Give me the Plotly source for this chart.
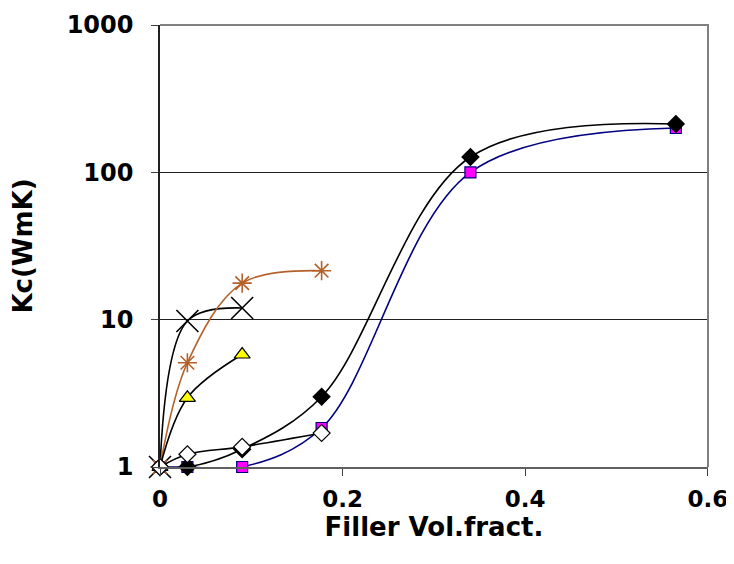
import plotly.graph_objects as go

# Data (filler volume fraction vs composite conductivity Kc)
x_long = [0.0, 0.03, 0.09, 0.177, 0.34, 0.565]
kc_black_diamond = [1.0, 1.0, 1.32, 3.0, 127, 213]
kc_magenta_square = [1.0, 1.0, 1.0, 1.84, 100, 200]

x_mid = [0.0, 0.03, 0.09, 0.177]
kc_white_diamond = [1.0, 1.22, 1.37, 1.7]
kc_asterisk = [1.0, 5.1, 17.7, 21.5]

x_short = [0.0, 0.03, 0.09]
kc_triangle = [1.0, 2.95, 5.8]
kc_cross = [1.0, 9.8, 12.0]

x_ticks = [0, 0.2, 0.4, 0.6]
x_tick_text = ["0", "0.2", "0.4", "0.6"]
y_ticks = [1, 10, 100, 1000]
y_tick_text = ["1", "10", "100", "1000"]

FONT = "DejaVu Sans"

fig = go.Figure()

def add(x, y, line_color, symbol, fill, outline, size, lw=1.6, mlw=1.2):
    fig.add_trace(go.Scatter(
        x=x, y=y, mode="lines+markers",
        line=dict(color=line_color, width=lw, shape="spline", smoothing=1.0),
        marker=dict(symbol=symbol, color=fill, size=size,
                    line=dict(color=outline, width=mlw)),
        cliponaxis=False, showlegend=False,
    ))

add(x_long, kc_magenta_square, "#000080", "square", "#ff00ff", "#000080", 11)
add(x_long, kc_black_diamond, "#000000", "diamond", "#000000", "#000000", 13)
add(x_short, kc_cross, "#000000", "x-thin-open", "#000000", "#000000", 22, mlw=1.6)
add(x_mid, kc_asterisk, "#b5602a", "asterisk-open", "#b5602a", "#b5602a", 16, mlw=1.6)
add(x_short, kc_triangle, "#000000", "triangle-up", "#ffff00", "#000000", 14)
add(x_mid, kc_white_diamond, "#000000", "diamond", "#ffffff", "#000000", 13)

fig.update_layout(
    width=726, height=540,
    margin=dict(l=152, r=26, t=17, b=81),
    paper_bgcolor="white", plot_bgcolor="white",
    font=dict(family=FONT, color="black"),
    xaxis=dict(
        range=[0, 0.6002], tickvals=x_ticks, ticktext=x_tick_text,
        ticks="outside", ticklen=7, tickcolor="#404040",
        showgrid=False, zeroline=False, automargin=False,
        showline=True, linecolor="#606060", linewidth=1.5,
        tickfont=dict(family=FONT, size=23, weight="bold"),
        ticklabelstandoff=4, ticklabeloverflow="allow",
        title=dict(text="<b>Filler Vol.fract.</b>", font=dict(family=FONT, size=26), standoff=2),
    ),
    yaxis=dict(
        type="log", range=[0, 3], tickvals=y_ticks, ticktext=y_tick_text,
        ticks="outside", ticklen=7, tickcolor="#404040",
        showgrid=True, gridcolor="#202020", gridwidth=1,
        zeroline=False, automargin=False,
        showline=True, linecolor="#202020", linewidth=1.5,
        tickfont=dict(family=FONT, size=24, weight="bold"),
        ticklabelstandoff=13,
        title=dict(text="<b>Kc(WmK)</b>", font=dict(family=FONT, size=26), standoff=27),
    ),
    shapes=[dict(type="path", xref="paper", yref="paper",
                 path="M 0 1 L 1 1 L 1 0",
                 line=dict(color="#808080", width=2), layer="above")],
)

fig.write_html("out.html")
